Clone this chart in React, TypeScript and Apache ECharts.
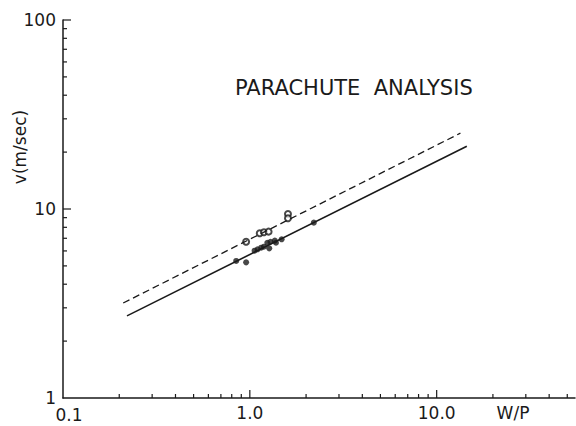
import React, { useEffect, useRef } from "react";
import * as echarts from "echarts";

// Axis ticks and labels
const xMajorTicks = [0.1, 1, 10];
const xMajorLabels = ["0.1", "1.0", "10.0"];
const yMajorTicks = [1, 10, 100];
const yMajorLabels = ["1", "10", "100"];
const xMinorTicks = [0.2, 0.3, 0.4, 0.5, 0.6, 0.7, 0.8, 0.9, 2, 3, 4, 5, 6, 7, 8, 9, 20, 30, 40, 50];
const yMinorTicks = [2, 3, 4, 5, 6, 7, 8, 9, 20, 30, 40, 50, 60, 70, 80, 90];
const xTickMarks = [1, 10];
const yTickMarks = [10, 100];

// Fitted lines (end points)
const solidFitX = [0.22, 14.5];
const solidFitY = [2.72, 21.5];
const dashedFitX = [0.21, 13.4];
const dashedFitY = [3.18, 25.2];

// Measured points
const filledX = [0.845, 0.955, 1.06, 1.1, 1.15, 1.19, 1.24, 1.29, 1.27, 1.36, 1.38, 1.48, 2.2];
const filledY = [5.31, 5.22, 6.02, 6.12, 6.24, 6.32, 6.63, 6.71, 6.19, 6.8, 6.63, 6.91, 8.47];
const openX = [0.955, 1.13, 1.19, 1.26, 1.6, 1.6];
const openY = [6.71, 7.44, 7.53, 7.59, 9.41, 8.93];

const FONT = "DejaVu Sans";
const INK = "#1a1a1a";
const X_MIN = 0.1;
const X_MAX = 55;
const Y_MIN = 1;
const Y_MAX = 100;

const zip = (xs: number[], ys: number[]) => xs.map((x, i) => [x, ys[i]]);
const idxOf = (ticks: number[], v: number) => ticks.findIndex((t) => Math.abs(v - t) / t < 1e-6);

const xTickSeries = (values: number[], len: number) => ({
  type: "custom",
  data: values.map((v) => [v, Y_MIN]),
  silent: true,
  clip: false,
  z: 5,
  renderItem: (params: any, api: any) => {
    const p = api.coord([api.value(0), Y_MIN]);
    return {
      type: "line",
      shape: { x1: p[0], y1: p[1], x2: p[0], y2: p[1] - len },
      style: { stroke: INK, lineWidth: 1.2 },
    };
  },
});

const yTickSeries = (values: number[], len: number) => ({
  type: "custom",
  data: values.map((v) => [X_MIN, v]),
  silent: true,
  clip: false,
  z: 5,
  renderItem: (params: any, api: any) => {
    const p = api.coord([X_MIN, api.value(1)]);
    return {
      type: "line",
      shape: { x1: p[0], y1: p[1], x2: p[0] + len, y2: p[1] },
      style: { stroke: INK, lineWidth: 1.2 },
    };
  },
});

export default function App() {
  const ref = useRef<HTMLDivElement>(null);
  useEffect(() => {
    if (!ref.current) return;
    const chart = echarts.init(ref.current, null, { renderer: "svg" });
    const axisLineStyle = { color: INK, width: 1.5 };
    const option: any = {
      animation: false,
      backgroundColor: "#fff",
      title: {
        text: "PARACHUTE  ANALYSIS",
        left: 230,
        top: 72,
        textStyle: { fontFamily: FONT, fontSize: 21, fontWeight: "normal", color: INK },
      },
      grid: { left: 63, right: 1, top: 20, bottom: 28 },
      xAxis: {
        type: "log",
        logBase: 10,
        min: X_MIN,
        max: X_MAX,
        position: "bottom",
        axisLine: { show: true, lineStyle: axisLineStyle },
        axisTick: { show: false },
        axisLabel: {
          customValues: xMajorTicks.slice(1),
          formatter: (v: number) => {
            const i = idxOf(xMajorTicks, v);
            return i < 0 ? "" : xMajorLabels[i];
          },
          fontFamily: FONT,
          fontSize: 17,
          color: INK,
          margin: 6,
        },
        splitLine: { show: false },
      },
      yAxis: {
        type: "log",
        logBase: 10,
        min: Y_MIN,
        max: Y_MAX,
        position: "left",
        axisLine: { show: true, lineStyle: axisLineStyle },
        axisTick: { show: false },
        axisLabel: {
          customValues: yMajorTicks,
          formatter: (v: number) => {
            const i = idxOf(yMajorTicks, v);
            return i < 0 ? "" : yMajorLabels[i];
          },
          fontFamily: FONT,
          fontSize: 17,
          color: INK,
          margin: 7,
        },
        splitLine: { show: false },
      },
      graphic: [
        {
          type: "text",
          x: 69,
          y: 406,
          style: {
            text: xMajorLabels[0],
            fontFamily: FONT,
            fontSize: 17,
            fill: INK,
            textAlign: "center",
            textVerticalAlign: "top",
          },
        },
        {
          type: "text",
          x: 20,
          y: 147,
          rotation: Math.PI / 2,
          style: {
            text: "v(m/sec)",
            fontFamily: FONT,
            fontSize: 17,
            fill: INK,
            textAlign: "center",
            textVerticalAlign: "middle",
          },
        },
        {
          type: "text",
          x: 513,
          y: 413,
          style: {
            text: "W/P",
            fontFamily: FONT,
            fontSize: 17,
            fill: INK,
            textAlign: "center",
            textVerticalAlign: "middle",
          },
        },
      ],
      series: [
        xTickSeries(xMinorTicks, 4),
        xTickSeries(xTickMarks, 8),
        yTickSeries(yMinorTicks, 4),
        yTickSeries(yTickMarks, 8),
        {
          type: "line",
          data: zip(solidFitX, solidFitY),
          showSymbol: false,
          symbol: "none",
          lineStyle: { color: INK, width: 1.6, type: "solid" },
        },
        {
          type: "line",
          data: zip(dashedFitX, dashedFitY),
          showSymbol: false,
          symbol: "none",
          lineStyle: { color: INK, width: 1.3, type: [7, 4] },
        },
        {
          type: "scatter",
          data: zip(filledX, filledY),
          symbol: "circle",
          symbolSize: 6,
          itemStyle: { color: INK },
        },
        {
          type: "scatter",
          data: zip(openX, openY),
          symbol: "emptyCircle",
          symbolSize: 6,
          itemStyle: { color: INK, borderColor: INK, borderWidth: 1 },
        },
      ],
    };
    chart.setOption(option);
    return () => chart.dispose();
  }, []);
  return (
    <div
      ref={ref}
      style={{ position: "absolute", left: 0, top: 0, width: 576, height: 426, background: "#fff" }}
    />
  );
}
